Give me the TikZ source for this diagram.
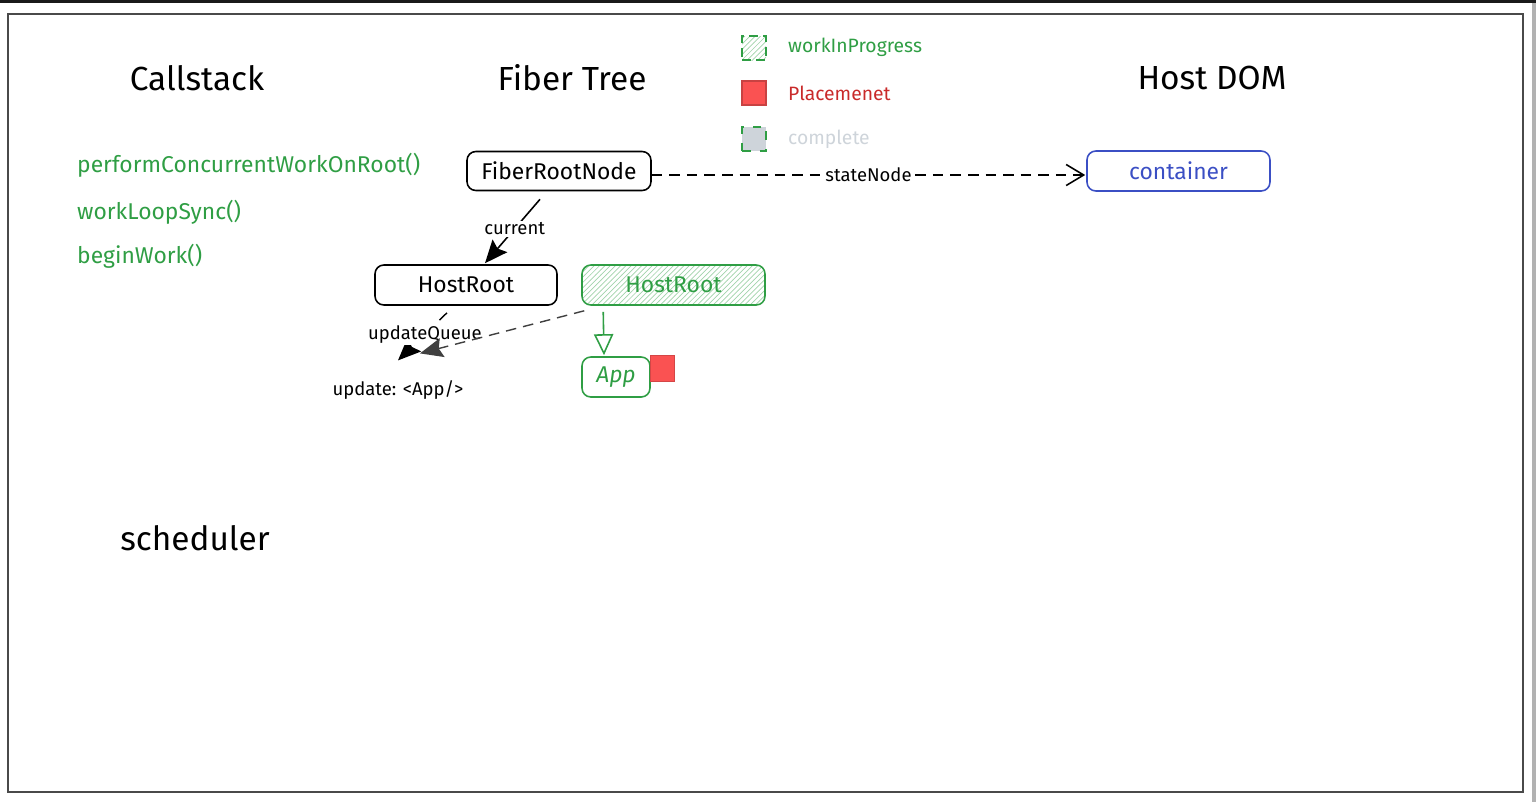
\documentclass[tikz,border=0pt]{standalone}
\usepackage{fontspec}
\setmainfont{Fira Sans}
\usetikzlibrary{arrows.meta,calc,patterns}
\definecolor{wipgreen}{HTML}{2F9E44}
\definecolor{placered}{HTML}{FA5252}
\definecolor{placetext}{HTML}{C92A2A}
\definecolor{donegray}{HTML}{CED4DA}
\definecolor{hostblue}{HTML}{3B4FC4}
\definecolor{framegray}{HTML}{4A4A4A}
\tikzset{
  title/.style={font=\fontsize{19}{22}\selectfont, text=black},
  callfn/.style={font=\fontsize{13}{16}\selectfont, text=wipgreen, anchor=west},
  legendtxt/.style={font=\fontsize{11}{13}\selectfont, anchor=west},
  fiberbox/.style={draw=black, line width=0.9pt, rounded corners=5pt,
    minimum height=0.78cm, font=\fontsize{13}{16}\selectfont, inner sep=0pt},
  wipbox/.style={fiberbox, draw=wipgreen, text=wipgreen,
    pattern=north east lines, pattern color=wipgreen!45},
  edgelabel/.style={fill=white, inner sep=1pt, font=\fontsize{10.5}{12}\selectfont},
  link/.style={line width=0.8pt, dash pattern=on 6pt off 4pt},
  solidtip/.style={-{Stealth[length=13pt, width=11pt, inset=2pt]}},
}
\begin{document}
\begin{tikzpicture}[x=0.02cm, y=-0.02cm]
\useasboundingbox (0,0) rectangle (1536,802);
% outer screen edges
\fill[black!90] (0,0) rectangle (1536,3);
\fill[black!30] (1532,3) rectangle (1536,802);
% board frame
\draw[framegray, line width=1.1pt] (8,14) rectangle (1523,792);

% column headings
\node[title] (hcall) at (197,78) {Callstack};
\node[title] (hfiber) at (572,78) {Fiber Tree};
\node[title] (hdom) at (1212,78) {Host DOM};
\node[title] (hsched) at (195,538) {scheduler};

% call stack entries
\node[callfn] (f1) at (71,165) {performConcurrentWorkOnRoot()};
\node[callfn] (f2) at (71,212) {workLoopSync()};
\node[callfn] (f3) at (71,256) {beginWork()};

% legend
\node[draw=wipgreen, line width=0.8pt, dash pattern=on 5pt off 3pt,
  pattern=north east lines, pattern color=wipgreen!45,
  minimum size=0.48cm, inner sep=0pt] (lg1) at (754,48) {};
\node[legendtxt, text=wipgreen] (lt1) at (782,47) {workInProgress};
\node[draw=placered!80!black, fill=placered, line width=0.6pt,
  minimum size=0.48cm, inner sep=0pt] (lg2) at (754,93) {};
\node[legendtxt, text=placetext] (lt2) at (782,93) {Placemenet};
\node[draw=wipgreen, line width=0.8pt, dash pattern=on 5pt off 5pt,
  fill=donegray, minimum size=0.48cm, inner sep=0pt] (lg3) at (754,139) {};
\node[legendtxt, text=donegray] (lt3) at (782,139) {complete};

% fiber tree
\node[fiberbox, minimum width=3.68cm] (frn) at (559,171) {FiberRootNode};
\node[fiberbox, draw=hostblue, text=hostblue, minimum width=3.66cm,
  minimum height=0.8cm] (cont) at (1178.5,171) {container};
\node[fiberbox, minimum width=3.64cm, minimum height=0.8cm] (hr) at (466,285) {HostRoot};
\node[wipbox, minimum width=3.66cm, minimum height=0.8cm] (wip) at (673.5,285) {HostRoot};
\node[fiberbox, draw=wipgreen, text=wipgreen, minimum width=1.36cm,
  minimum height=0.8cm] (app) at (616,377) {\itshape App};
\node[fill=placered, draw=placered!85!black, line width=0.5pt,
  minimum width=0.48cm, minimum height=0.52cm, inner sep=0pt] (place) at (662,368) {};
\node[font=\fontsize{10.5}{12}\selectfont] (upd) at (398,390) {update: <App/>};

% connectors
\draw[link, -{Straight Barb[length=10pt, width=12pt, line width=0.9pt]}]
  ($(frn.east)+(0,4)$) -- node[edgelabel] {stateNode} ($(cont.west)+(-1,4)$);
\draw[line width=0.9pt, solidtip]
  ($(frn.south)+(-19,8)$) -- node[edgelabel, pos=0.46] {current} ($(hr.north)+(19,-1)$);
\draw[link, solidtip]
  ($(hr.south)+(-19,7)$) -- node[edgelabel, pos=0.45] {updateQueue} ($(upd.north)+(0,-14)$);
\draw[link, black!75, solidtip]
  ($(wip.south west)+(3,5)$) -- ($(upd.north)+(22,-21)$);
\draw[wipgreen, line width=0.9pt,
  -{Triangle[open, length=12pt, width=11pt, line width=0.9pt]}]
  ($(wip.south west)+(22,6)$) -- ($(app.north)+(-12,-1)$);
\end{tikzpicture}
\end{document}
